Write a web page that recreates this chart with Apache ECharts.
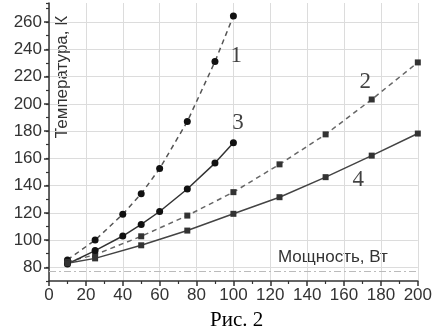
<!DOCTYPE html>
<html>
<head>
<meta charset="utf-8">
<script src="https://cdn.jsdelivr.net/npm/echarts@6/dist/echarts.min.js"></script>
<style>
  html, body { margin: 0; padding: 0; background: #fff; }
  #chart { width: 435px; height: 333px; }
</style>
</head>
<body>
<div id="chart"></div>
<script>
// curves 1 and 3 (circles), measured up to 100 W
const powerShort = [10, 25, 40, 50, 60, 75, 90, 100];
const curve1 = [85.5, 100, 119, 134, 152.5, 187, 231, 264.5];
const curve3 = [82.5, 92.3, 103, 111.5, 121, 137.5, 156.5, 171.5];
// curves 2 and 4 (squares), measured up to 200 W
const powerLong = [10, 25, 50, 75, 100, 125, 150, 175, 200];
const curve2 = [84, 89.3, 102.8, 118, 135.2, 155.6, 177.6, 203.2, 230.4];
const curve4 = [83, 86.6, 96.2, 107, 119.3, 131.5, 146.2, 162, 178.2];

const yTicks = [80, 100, 120, 140, 160, 180, 200, 220, 240, 260];
const baseLevel = 77;
// curve numbers: [power, temperature, text]
const curveLabels = [[101.5, 235, '1'], [171.5, 216, '2'], [102.5, 186, '3'], [167.7, 144, '4']];

const pairs = (xs, ys) => xs.map((x, i) => [x, ys[i]]);

const chart = echarts.init(document.getElementById('chart'));

const tickFont = { color: '#333', fontSize: 17, fontFamily: 'Liberation Sans, Arial, sans-serif' };

chart.setOption({
  animation: false,
  title: {
    text: 'Рис. 2',
    left: 205,
    top: 305,
    textStyle: { fontFamily: 'Liberation Serif, Times New Roman, serif', fontSize: 21, fontWeight: 'normal', color: '#000' }
  },
  grid: { left: 49, right: 12, top: 3, bottom: 52 },
  xAxis: {
    type: 'value',
    min: 0,
    max: 200,
    interval: 20,
    axisLine: { show: true, lineStyle: { color: '#333', width: 1.5 } },
    axisTick: { show: true, length: 5, lineStyle: { color: '#333', width: 1.5 } },
    minorTick: { show: true, splitNumber: 2, length: 3, lineStyle: { color: '#333', width: 1.2 } },
    axisLabel: Object.assign({ margin: 6 }, tickFont),
    splitLine: { show: true, lineStyle: { color: '#dcdcdc', width: 1 } }
  },
  yAxis: [
    {
      type: 'value',
      min: 70,
      max: 274,
      position: 'left',
      axisLine: { show: true, lineStyle: { color: '#333', width: 1.5 } },
      axisTick: { show: true, length: 5, customValues: yTicks, lineStyle: { color: '#333', width: 1.5 } },
      axisLabel: Object.assign({ margin: 7, customValues: yTicks }, tickFont),
      splitLine: { show: true, lineStyle: { color: '#dcdcdc', width: 1 } }
    },
    {
      type: 'value',
      min: 70,
      max: 274,
      interval: 10,
      position: 'left',
      axisLine: { show: false },
      axisTick: { show: true, length: 3, lineStyle: { color: '#333', width: 1.2 } },
      axisLabel: { show: false },
      splitLine: { show: false }
    }
  ],
  graphic: [
    {
      type: 'text',
      x: 62,
      y: 77,
      rotation: Math.PI / 2,
      style: {
        text: 'Температура, К',
        fill: '#333',
        font: '17px "Liberation Sans", Arial, sans-serif',
        align: 'center',
        verticalAlign: 'middle'
      }
    },
    {
      type: 'text',
      x: 278,
      y: 257,
      style: {
        text: 'Мощность, Вт',
        fill: '#333',
        font: '17px "Liberation Sans", Arial, sans-serif',
        align: 'left',
        verticalAlign: 'middle'
      }
    }
  ],
  series: [
    {
      name: '1',
      type: 'line',
      data: pairs(powerShort, curve1),
      symbol: 'circle',
      symbolSize: 7,
      itemStyle: { color: '#111' },
      lineStyle: { color: '#555', width: 1.5, type: [5, 4] },
      markLine: {
        silent: true,
        symbol: 'none',
        label: { show: false },
        lineStyle: { color: '#bbb', width: 1, type: [7, 3, 2, 3] },
        data: [{ yAxis: baseLevel }]
      }
    },
    {
      name: '2',
      type: 'line',
      data: pairs(powerLong, curve2),
      symbol: 'rect',
      symbolSize: 6,
      itemStyle: { color: '#333' },
      lineStyle: { color: '#666', width: 1.5, type: [5, 4] }
    },
    {
      name: '3',
      type: 'line',
      data: pairs(powerShort, curve3),
      symbol: 'circle',
      symbolSize: 7,
      itemStyle: { color: '#111' },
      lineStyle: { color: '#333', width: 1.5 }
    },
    {
      name: '4',
      type: 'line',
      data: pairs(powerLong, curve4),
      symbol: 'rect',
      symbolSize: 6,
      itemStyle: { color: '#333' },
      lineStyle: { color: '#444', width: 1.5 }
    },
    {
      type: 'scatter',
      data: curveLabels,
      symbolSize: 0,
      silent: true,
      label: {
        show: true,
        position: 'inside',
        formatter: (p) => p.data[2],
        fontFamily: 'Liberation Serif, Times New Roman, serif',
        fontSize: 23,
        color: '#111'
      }
    }
  ]
});
</script>
</body>
</html>
